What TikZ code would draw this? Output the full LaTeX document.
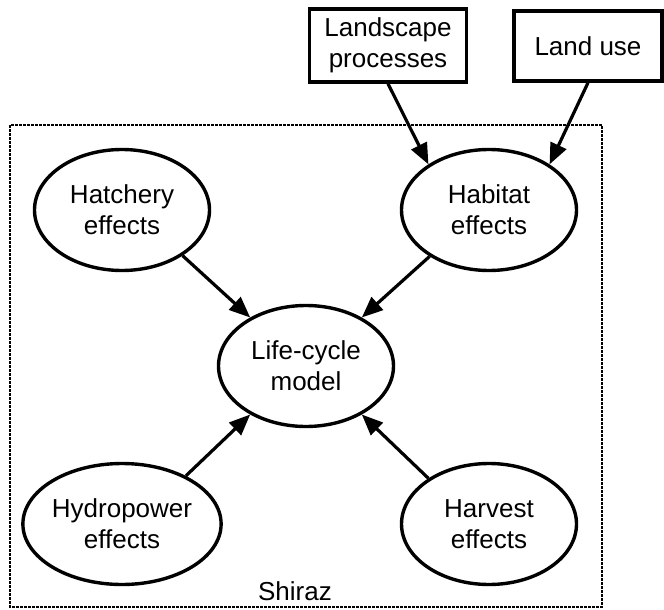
\documentclass[tikz,border=0pt]{standalone}
\usepackage{fontspec}
\setmainfont{Liberation Sans}
\usetikzlibrary{shapes.geometric,arrows.meta}
\tikzset{
  every node/.style={font=\fontsize{26}{31}\selectfont, align=center, inner sep=0pt},
  oval/.style={ellipse, draw, line width=3.4pt, minimum width=175pt, minimum height=121pt},
  rbox/.style={rectangle, draw, line width=3.4pt},
  conn/.style={line width=3.2pt, -{Triangle[length=21pt,width=17pt]}},
  frame/.style={line width=2.6pt, dash pattern=on 3pt off 1pt}
}
\begin{document}
\begin{tikzpicture}[x=1pt,y=-1pt]
\useasboundingbox (0,0) rectangle (664,610);
\draw[frame] (10,125) rectangle (602,607);
\node[rbox, minimum width=157pt, minimum height=73pt] (land) at (388,45.5) {Landscape\\processes};
\node[rbox, minimum width=148pt, minimum height=70pt] (use) at (588,46) {Land use};
\node[oval] (hat) at (122,210) {Hatchery\\effects};
\node[oval] (hab) at (489,210) {Habitat\\effects};
\node[oval] (life) at (306,366) {Life-cycle\\model};
\node[oval] (hyd) at (122,524) {Hydropower\\effects};
\node[oval] (har) at (489,524) {Harvest\\effects};
\node[anchor=base] (shiraz) at (295,600) {Shiraz};
\draw[conn] (land.south) -- (hab.143);
\draw[conn] (use.south) -- (hab.37);
\draw[conn] (hat.-37) -- (life.139);
\draw[conn] (hab.218) -- (life.41);
\draw[conn] (hyd.37) -- (life.221);
\draw[conn] (har.143) -- (life.-41);
\end{tikzpicture}
\end{document}
